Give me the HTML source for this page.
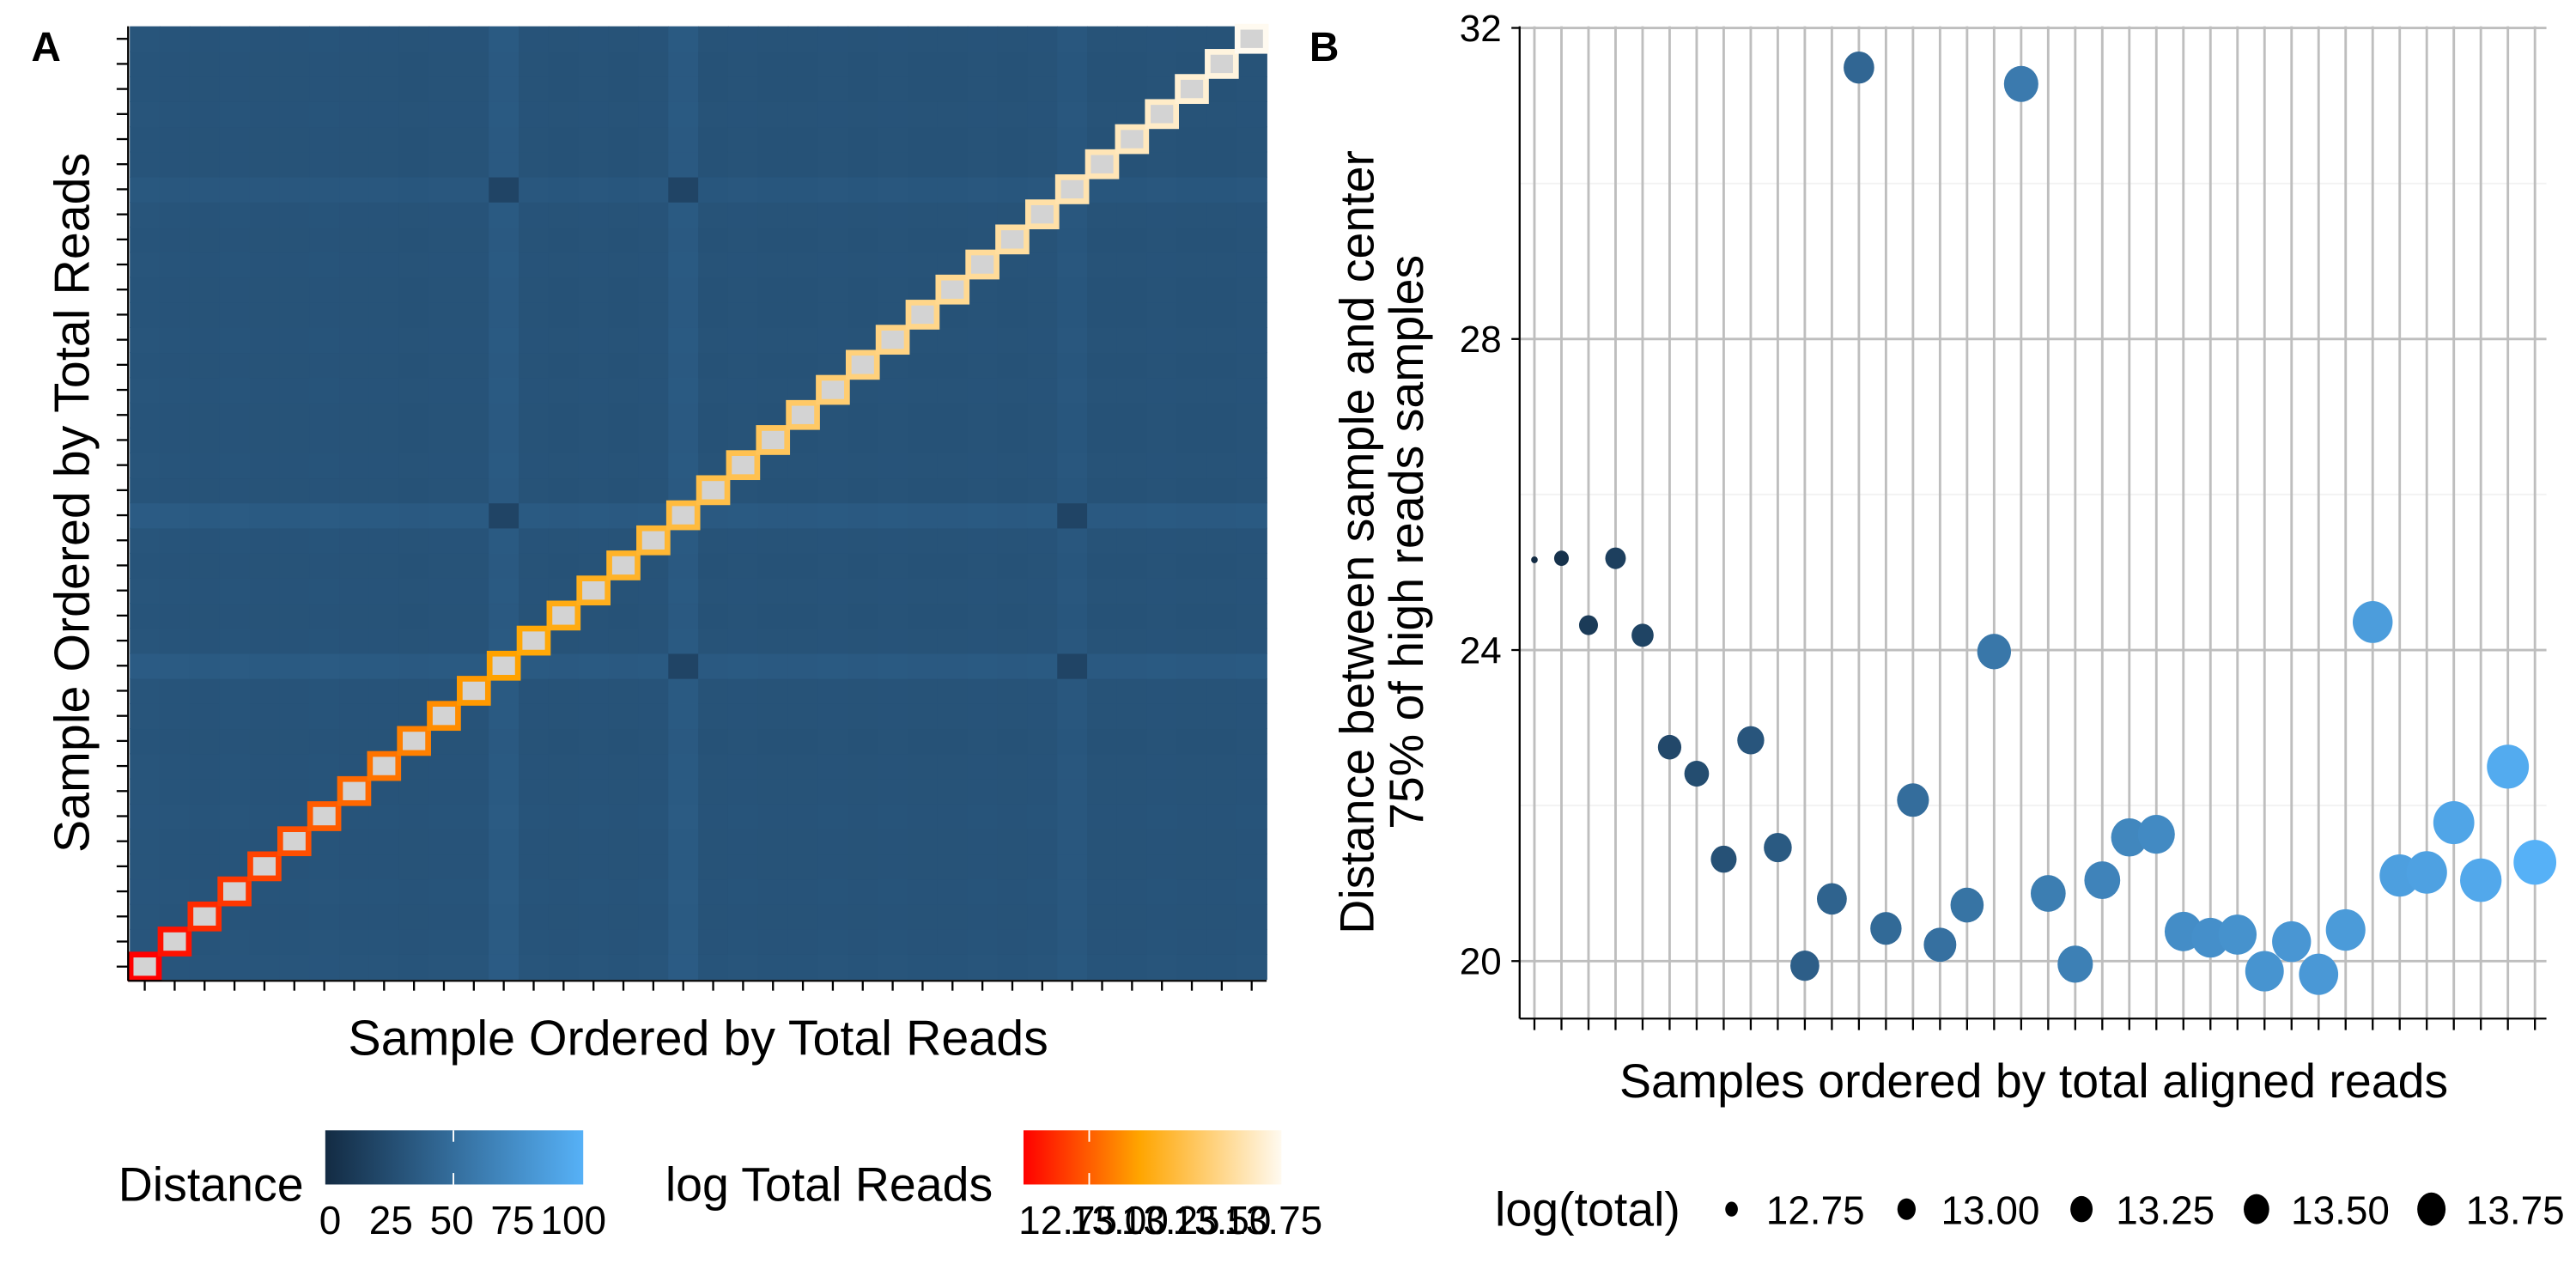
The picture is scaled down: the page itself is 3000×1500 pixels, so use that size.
<!DOCTYPE html>
<html><head><meta charset="utf-8"><style>
html,body{margin:0;padding:0;background:#fff}
svg{display:block;font-family:"Liberation Sans",Arial,sans-serif}
</style></head><body>
<svg id="chart" width="3000" height="1500" viewBox="0 0 1568 784" xmlns="http://www.w3.org/2000/svg">
<rect width="1568" height="784" fill="#fff"/>
<g id="panelA"></g>
<g id="panelB"></g>
<text x="19" y="37" font-size="25" font-weight="bold">A</text>
<text x="797" y="37" font-size="25" font-weight="bold">B</text>
</svg>
<script>
// ---- data ----
const logTotal = [12.62,12.68,12.76,12.80,12.84,12.88,12.92,12.96,13.00,13.04,13.08,13.12,13.15,13.18,13.21,13.24,13.27,13.30,13.33,13.36,13.38,13.41,13.44,13.47,13.50,13.52,13.54,13.56,13.58,13.60,13.62,13.64,13.66,13.68,13.71,13.74,13.77,13.82];
const centerDist = [25.16,25.18,24.32,25.18,24.19,22.75,22.41,21.31,22.84,21.46,19.94,20.80,31.49,20.42,22.07,20.21,20.72,23.98,31.28,20.87,19.96,21.04,21.59,21.63,20.38,20.30,20.34,19.87,20.25,19.83,20.40,24.36,21.10,21.14,21.78,21.04,22.50,21.27];
const sampleBaseDist = [32,31,30,31,30,30,31,30,30,29,30,30,40,30,29,30,29,30,40,29,30,29,29,30,29,30,29,29,30,29,30,35,29,29,30,29,29,30];
const lowPairs = [[12,18],[12,31],[18,31]];
const lowPairValue = 19;
const yTicksB = [20,24,28,32];
const sizeLegendValues = [12.75,13.00,13.25,13.50,13.75];
const distLegendTicks = [0,25,50,75,100];
const readsLegendTicks = [12.75,13.00,13.25,13.50,13.75];

const NS = "http://www.w3.org/2000/svg";
function mk(parent, tag, attrs, txt){const e=document.createElementNS(NS,tag);for(const k in attrs)e.setAttribute(k,attrs[k]);if(txt!==undefined)e.textContent=txt;parent.appendChild(e);return e;}
function lerp(a,b,t){return a+(b-a)*t;}
function hex(c){return "#"+c.map(v=>Math.round(Math.max(0,Math.min(255,v))).toString(16).padStart(2,"0")).join("");}
function blue(t){t=Math.max(0,Math.min(1,t));return hex([lerp(19,86,t),lerp(43,177,t),lerp(67,247,t)]);}
function reds(t){t=Math.max(0,Math.min(1,t));if(t<0.45){const u=t/0.45;return hex([255,lerp(0,165,u),0]);}const u=(t-0.45)/0.55;return hex([255,lerp(165,250,u),lerp(0,240,u)]);}
const N = logTotal.length;
const ltMin = Math.min(...logTotal), ltMax = Math.max(...logTotal);

// ---- panel A ----
const A = document.getElementById("panelA");
const ax0=79, ax1=771, ay0=16, ay1=596;
const cw=(ax1-ax0)/N, ch=(ay1-ay0)/N;
const hx = i => ax0 + i*cw;
const hy = i => ay0 + (N-1-i)*ch;
function cellVal(i,j){
  for(const p of lowPairs){ if((p[0]===i&&p[1]===j)||(p[0]===j&&p[1]===i)) return lowPairValue; }
  return (sampleBaseDist[i]+sampleBaseDist[j])/2;
}
for(let i=0;i<N;i++){for(let j=0;j<N;j++){
  if(i===j) continue;
  const r=mk(A,"rect",{x:hx(i),y:hy(j),width:cw+0.4,height:ch+0.4,fill:blue(cellVal(i,j)/100)});
  
  
}}
for(let i=0;i<N;i++){
  const r=mk(A,"rect",{x:hx(i)+0.5,y:hy(i)+0.3,width:cw-1,height:ch-0.6,fill:"#d3d3d3",stroke:reds((logTotal[i]-ltMin)/(ltMax-ltMin)),"stroke-width":3.5});
  
  
}
mk(A,"line",{x1:ax0-1,y1:ay0,x2:ax0-1,y2:ay1+1,stroke:"#000","stroke-width":1.2,});
mk(A,"line",{x1:ax0-1,y1:ay1+1,x2:ax1,y2:ay1+1,stroke:"#000","stroke-width":1.2,});
for(let i=0;i<N;i++){
  const t=mk(A,"line",{x1:hx(i)+cw/2,y1:ay1+1,x2:hx(i)+cw/2,y2:ay1+7,stroke:"#000","stroke-width":1.2});
  
  
  const u=mk(A,"line",{x1:ax0-8,y1:hy(i)+ch/2,x2:ax0-1,y2:hy(i)+ch/2,stroke:"#000","stroke-width":1.2});
  
  
}
mk(A,"text",{x:(ax0+ax1)/2,y:642,"font-size":30,"text-anchor":"middle",},"Sample Ordered by Total Reads");
mk(A,"text",{x:0,y:0,"font-size":30,"text-anchor":"middle",transform:"translate(54,306) rotate(-90)",},"Sample Ordered by Total Reads");
// legends A
mk(A,"text",{x:72,y:731,"font-size":29,},"Distance");
const dg=mk(A,"defs",{});
const lg1=mk(dg,"linearGradient",{id:"gB"});mk(lg1,"stop",{offset:"0",  "stop-color":blue(0)});mk(lg1,"stop",{offset:"1","stop-color":blue(1)});
const lg2=mk(dg,"linearGradient",{id:"gR"});
[0,0.2,0.45,0.7,1].forEach(o=>mk(lg2,"stop",{offset:o,"stop-color":reds(o)}));
mk(A,"rect",{x:198,y:688,width:157,height:33,fill:"url(#gB)",});
const dlx = v => 201 + (v/100)*148;
distLegendTicks.forEach(v=>{
  const t=mk(A,"text",{x:dlx(v),y:751,"font-size":24,"text-anchor":"middle"},String(v));
  
  
});
mk(A,"line",{x1:276,y1:688,x2:276,y2:695,stroke:"#fff","stroke-width":1});
mk(A,"line",{x1:276,y1:714,x2:276,y2:721,stroke:"#fff","stroke-width":1});
mk(A,"text",{x:405,y:731,"font-size":29,},"log Total Reads");
mk(A,"rect",{x:623,y:688,width:157,height:33,fill:"url(#gR)",});
const rlx = v => 650 + (v-12.75)/1.0*125;
readsLegendTicks.forEach(v=>{
  const t=mk(A,"text",{x:rlx(v),y:751,"font-size":24,"text-anchor":"middle"},v.toFixed(2));
  
  
});
mk(A,"line",{x1:663,y1:688,x2:663,y2:695,stroke:"#fff","stroke-width":1});
mk(A,"line",{x1:663,y1:714,x2:663,y2:721,stroke:"#fff","stroke-width":1});

// ---- panel B ----
const B=document.getElementById("panelB");
const bx0=925, bx1=1550, by0=16, by1=620;
const xB = i => 934 + i*(1543-934)/(N-1);
const yB = v => 585 - (v-20)*(585-17)/12;
const rB = v => 2 + 11*Math.sqrt(Math.max(0,(v-ltMin)/(ltMax-ltMin)));
[22,26,30].forEach(v=>mk(B,"line",{x1:bx0,y1:yB(v),x2:bx1,y2:yB(v),stroke:"#f2f2f2","stroke-width":1}));
yTicksB.forEach(v=>{
  const g=mk(B,"line",{x1:bx0,y1:yB(v),x2:bx1,y2:yB(v),stroke:"#bebebe","stroke-width":1.5});
  
  
  const t=mk(B,"text",{x:914,y:yB(v)+8,"font-size":23,"text-anchor":"end"},String(v));
  
  
  mk(B,"line",{x1:bx0-5,y1:yB(v),x2:bx0,y2:yB(v),stroke:"#000","stroke-width":1.2});
});
for(let i=0;i<N;i++){
  const g=mk(B,"line",{x1:xB(i),y1:by0,x2:xB(i),y2:by1,stroke:"#bebebe","stroke-width":1.5});
  
  
  const t=mk(B,"line",{x1:xB(i),y1:by1,x2:xB(i),y2:by1+7,stroke:"#000","stroke-width":1.2});
  
  
}
mk(B,"line",{x1:bx0,y1:by0,x2:bx0,y2:by1,stroke:"#000","stroke-width":1.2,});
mk(B,"line",{x1:bx0,y1:by1,x2:bx1,y2:by1,stroke:"#000","stroke-width":1.2,});
for(let i=0;i<N;i++){
  const c=mk(B,"ellipse",{cx:xB(i),cy:yB(centerDist[i]),rx:rB(logTotal[i]),ry:rB(logTotal[i])*1.05,fill:blue((logTotal[i]-ltMin)/(ltMax-ltMin))});
  
  
}
mk(B,"text",{x:1238,y:668,"font-size":29,"text-anchor":"middle",},"Samples ordered by total aligned reads");
mk(B,"text",{x:0,y:0,"font-size":29,"text-anchor":"middle",transform:"translate(836,330) rotate(-90)",},"Distance between sample and center");
mk(B,"text",{x:0,y:0,"font-size":29,"text-anchor":"middle",transform:"translate(866,330) rotate(-90)",},"75% of high reads samples");
mk(B,"text",{x:910,y:746,"font-size":29,},"log(total)");
sizeLegendValues.forEach((v,k)=>{
  const cx=1054+k*106.5;
  const rr=rB(v)*0.8;
  const c=mk(B,"ellipse",{cx:cx,cy:736,rx:rr*0.85,ry:rr,fill:"#000"});
  
  
  const t=mk(B,"text",{x:cx+21,y:745,"font-size":24},v.toFixed(2));
  
  
});
</script>
</body></html>
